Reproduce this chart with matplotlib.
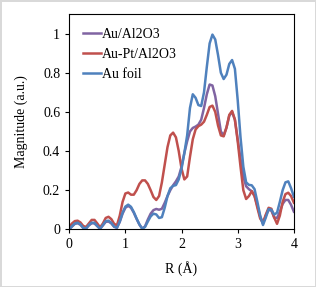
import numpy as np
import matplotlib.pyplot as plt

plt.rcParams['font.family'] = ['Liberation Serif', 'DejaVu Serif']

# R (A), step 0.05
r = np.round(np.arange(0, 4.0001, 0.05), 2)

au_al2o3 = [0, 0.014, 0.028, 0.031, 0.023, 0.007, 0.004, 0.02, 0.031, 0.03,
            0.016, 0.003, 0.02, 0.038, 0.04, 0.03, 0.013, 0.008, 0.038, 0.08,
            0.11, 0.12, 0.11, 0.085, 0.053, 0.024, 0.004, 0.015, 0.05, 0.08,
            0.098, 0.104, 0.1, 0.105, 0.135, 0.17, 0.2, 0.225, 0.245, 0.27,
            0.32, 0.39, 0.45, 0.5, 0.518, 0.525, 0.535, 0.56, 0.62, 0.69,
            0.74, 0.735, 0.68, 0.59, 0.5, 0.48, 0.52, 0.58, 0.6, 0.56,
            0.46, 0.36, 0.27, 0.22, 0.205, 0.195, 0.17, 0.12, 0.065, 0.03,
            0.07, 0.1, 0.095, 0.06, 0.058, 0.09, 0.13, 0.15, 0.15, 0.125,
            0.09]

au_pt_al2o3 = [0.012, 0.03, 0.042, 0.044, 0.035, 0.017, 0.012, 0.03, 0.048, 0.048,
               0.03, 0.01, 0.03, 0.058, 0.064, 0.052, 0.028, 0.02, 0.07, 0.14,
               0.183, 0.188, 0.177, 0.177, 0.2, 0.232, 0.25, 0.25, 0.232, 0.2,
               0.165, 0.15, 0.17, 0.24, 0.33, 0.42, 0.48, 0.494, 0.47, 0.4,
               0.31, 0.255, 0.27, 0.37, 0.46, 0.51, 0.527, 0.535, 0.55, 0.585,
               0.625, 0.632, 0.6, 0.53, 0.48, 0.475, 0.52, 0.585, 0.605, 0.56,
               0.45, 0.32, 0.2, 0.155, 0.17, 0.195, 0.17, 0.11, 0.055, 0.034,
               0.075, 0.11, 0.105, 0.06, 0.028, 0.07, 0.14, 0.18, 0.187, 0.17,
               0.136]

au_foil = [0, 0.016, 0.03, 0.034, 0.025, 0.007, 0.005, 0.022, 0.034, 0.033,
           0.017, 0.002, 0.022, 0.042, 0.044, 0.033, 0.014, 0.008, 0.04, 0.085,
           0.116, 0.126, 0.115, 0.088, 0.055, 0.025, 0.003, 0.012, 0.04, 0.066,
           0.08, 0.076, 0.058, 0.062, 0.11, 0.17, 0.21, 0.222, 0.226, 0.255,
           0.31, 0.39, 0.48, 0.62, 0.69, 0.672, 0.635, 0.63, 0.7, 0.83,
           0.95, 0.995, 0.97, 0.89, 0.8, 0.768, 0.79, 0.845, 0.865, 0.82,
           0.66, 0.47, 0.32, 0.24, 0.227, 0.225, 0.205, 0.14, 0.07, 0.022,
           0.06, 0.103, 0.1, 0.075, 0.085, 0.14, 0.2, 0.24, 0.245, 0.21,
           0.167]

fig = plt.figure(figsize=(3.16, 2.87), dpi=100)
fig.patch.set_edgecolor('#d9d9d9')
fig.patch.set_linewidth(1)
ax = fig.add_axes([0.219, 0.201, 0.711, 0.750])

ax.plot(r, au_al2o3, color='#8064A2', lw=1.8, label='Au/Al2O3')
ax.plot(r, au_pt_al2o3, color='#C0504D', lw=1.8, label='Au-Pt/Al2O3')
ax.plot(r, au_foil, color='#4F81BD', lw=1.8, label='Au foil')

ax.set_xlim(0, 4)
ax.set_ylim(0, 1.1)
ax.set_xticks([0, 1, 2, 3, 4])
ax.set_yticks([0, 0.2, 0.4, 0.6, 0.8, 1.0])
ax.set_yticklabels(['0', '0.2', '0.4', '0.6', '0.8', '1'])
ax.tick_params(labelsize=10, length=3, width=0.8)
ax.set_xlabel('R (Å)', fontsize=10, labelpad=7)
ax.set_ylabel('Magnitude (a.u.)', fontsize=10, labelpad=11)

ax.legend(loc='upper left', frameon=False, fontsize=10, handlelength=1.3,
          handletextpad=0.05, labelspacing=0.5, borderaxespad=0.3,
          bbox_to_anchor=(0.02, 0.98))

fig.savefig('out.png', dpi=100)
